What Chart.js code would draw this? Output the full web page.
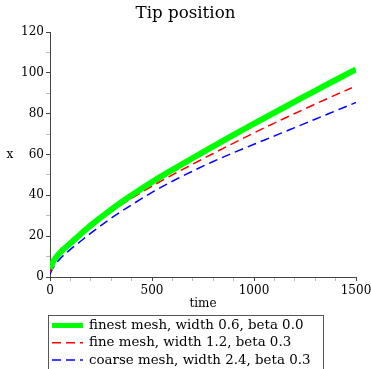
<!DOCTYPE html>
<html>
<head>
<meta charset="utf-8">
<script src="https://cdn.jsdelivr.net/npm/chart.js@4/dist/chart.umd.min.js"></script>
<style>
  html, body { margin: 0; padding: 0; background: #fff; }
  #wrap { position: relative; width: 371px; height: 369px; }
</style>
</head>
<body>
<div id="wrap"><canvas id="c" width="371" height="369"></canvas></div>
<script>
// ---- data ----
const chartTitle = 'Tip position';
const xAxisTitle = 'time';
const yAxisTitle = 'x';

const seriesLabels = [
  'finest mesh, width 0.6, beta 0.0',
  'fine mesh, width 1.2, beta 0.3',
  'coarse mesh, width 2.4, beta 0.3'
];

const timeFinest = [0, 10, 25, 50, 100, 150, 200, 300, 400, 500, 600, 700, 800, 900, 1000, 1100, 1200, 1300, 1400, 1500];
const posFinest  = [4, 6.5, 9, 12, 16.5, 21, 25.3, 33, 40, 46.5, 52.5, 58.3, 64.0, 69.6, 75.1, 80.5, 85.9, 91.2, 96.5, 101.7];

const timeFine = [0, 10, 25, 50, 100, 150, 200, 300, 400, 500, 600, 700, 800, 900, 1000, 1100, 1200, 1300, 1400, 1480];
const posFine  = [2.5, 5, 8, 11, 16, 20.5, 24.5, 32, 38.5, 44.5, 50.0, 55.3, 60.5, 65.6, 70.6, 75.4, 80.1, 84.7, 89.2, 92.7];

const timeCoarse = [0, 10, 25, 50, 100, 150, 200, 300, 400, 500, 600, 700, 800, 900, 1000, 1100, 1200, 1300, 1400, 1500];
const posCoarse  = [1.5, 3.5, 6, 9, 13.5, 17.5, 21.5, 28.8, 35.3, 41.5, 46.9, 51.9, 56.6, 60.9, 65.0, 69.1, 73.2, 77.3, 81.4, 85.5];

const xTickStep = 100, xLabelEvery = 500, xMin = 0, xMax = 1500;
const yTickStep = 10, yLabelEvery = 20, yMin = 0, yMax = 120;

// ---- build ----
function pts(ts, vs) { return ts.map((t, i) => ({ x: t, y: vs[i] })); }

const FONT = 'DejaVu Serif';

const legendPlugin = {
  id: 'boxLegend',
  afterDraw(chart) {
    const ctx = chart.ctx;
    ctx.save();
    // y-axis title drawn horizontally
    ctx.fillStyle = '#000';
    ctx.font = '12px "' + FONT + '"';
    ctx.textAlign = 'center';
    ctx.textBaseline = 'middle';
    ctx.fillText(yAxisTitle, 10, (chart.chartArea.top + chart.chartArea.bottom) / 2);

    // boxed legend
    const left = 48.5, top = 315.5, w = 275, rowH = 17.3;
    ctx.strokeStyle = '#555';
    ctx.lineWidth = 1;
    ctx.strokeRect(left, top, w, 60);
    ctx.font = '13.4px "' + FONT + '"';
    ctx.textAlign = 'left';
    chart.data.datasets.forEach((ds, i) => {
      const y = top + 10 + i * rowH;
      ctx.beginPath();
      ctx.setLineDash(ds.borderDash || []);
      ctx.lineWidth = ds.legendWidth;
      ctx.strokeStyle = ds.borderColor;
      ctx.moveTo(52, y);
      ctx.lineTo(83, y);
      ctx.stroke();
      ctx.setLineDash([]);
      ctx.fillStyle = '#000';
      ctx.fillText(ds.label, 89, y);
    });
    ctx.restore();
  }
};

new Chart(document.getElementById('c'), {
  type: 'line',
  data: {
    datasets: [
      { label: seriesLabels[0], data: pts(timeFinest, posFinest), borderColor: '#00ff00', borderWidth: 6, legendWidth: 5, pointRadius: 0, cubicInterpolationMode: 'monotone', fill: false },
      { label: seriesLabels[1], data: pts(timeFine, posFine), borderColor: '#ff0000', borderWidth: 1.5, legendWidth: 1.5, borderDash: [9, 5], pointRadius: 0, cubicInterpolationMode: 'monotone', fill: false },
      { label: seriesLabels[2], data: pts(timeCoarse, posCoarse), borderColor: '#0000ff', borderWidth: 1.5, legendWidth: 1.5, borderDash: [9, 5], pointRadius: 0, cubicInterpolationMode: 'monotone', fill: false }
    ]
  },
  options: {
    responsive: false,
    animation: false,
    layout: { padding: { left: 0, right: 0, top: 0, bottom: 54 } },
    plugins: {
      legend: { display: false },
      tooltip: { enabled: false },
      title: {
        display: true, text: chartTitle, color: '#000',
        font: { family: FONT, size: 16.7, weight: 'normal' },
        padding: { top: 4, bottom: 8 }
      }
    },
    scales: {
      x: {
        type: 'linear', min: xMin, max: xMax,
        afterFit(s) { s.height = 38; s.paddingRight = 15; },
        border: { display: true, color: '#444', width: 1 },
        grid: {
          drawOnChartArea: false, drawTicks: true, tickLength: 4,
          tickColor: c => (c.tick && c.tick.value % xLabelEvery === 0) ? '#444' : '#bbb'
        },
        ticks: {
          stepSize: xTickStep, autoSkip: false, maxRotation: 0, padding: 3, color: '#000',
          font: { family: FONT, size: 12 },
          callback: v => (v % xLabelEvery === 0 ? String(v) : '')
        },
        title: { display: true, text: xAxisTitle, color: '#000', font: { family: FONT, size: 12 }, padding: { top: 0, bottom: 4 } }
      },
      y: {
        type: 'linear', min: yMin, max: yMax,
        afterFit(s) { s.width = 50; },
        border: { display: true, color: '#444', width: 1 },
        grid: {
          drawOnChartArea: false, drawTicks: true, tickLength: 4,
          tickColor: c => (c.tick && c.tick.value % yLabelEvery === 0) ? '#444' : '#bbb'
        },
        ticks: {
          stepSize: yTickStep, autoSkip: false, padding: 2, color: '#000',
          font: { family: FONT, size: 12 },
          callback: v => (v % yLabelEvery === 0 ? String(v) : '')
        }
      }
    }
  },
  plugins: [legendPlugin]
});
</script>
</body>
</html>
